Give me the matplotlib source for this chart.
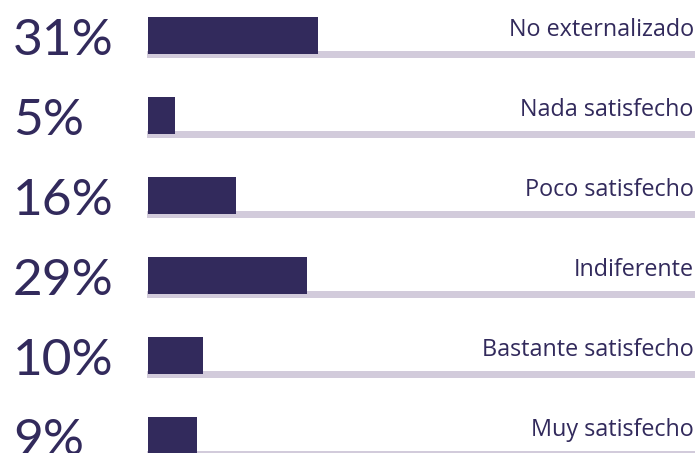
import matplotlib
matplotlib.use("Agg")
import matplotlib.pyplot as plt

categories = ["No externalizado", "Nada satisfecho", "Poco satisfecho",
              "Indiferente", "Bastante satisfecho", "Muy satisfecho"]
values = [31, 5, 16, 29, 10, 9]
pct_labels = ["31%", "5%", "16%", "29%", "10%", "9%"]

NAVY = "#322a5c"
TRACK = "#d2cbdb"

W, H = 699, 453
fig = plt.figure(figsize=(W / 100, H / 100), dpi=100)
ax = fig.add_axes([0, 0, 1, 1])
px_per_pct = 5.48
x0 = 148
ax.set_xlim(-x0 / px_per_pct, (W - x0) / px_per_pct)
row = 80.0
top = 35.5 / row
ax.set_ylim(H / row - top, -top)
ax.axis("off")

ys = list(range(len(categories)))
ax.barh([y + 19 / row for y in ys], [100] * len(ys), height=7 / row,
        left=-0.2, color=TRACK, zorder=1)
ax.barh(ys, values, height=37 / row, color=NAVY, zorder=2)

for y, lab, cat in zip(ys, pct_labels, categories):
    ax.text((13 - x0) / px_per_pct, y + 19.5 / row, lab, ha="left", va="baseline",
            fontsize=37, color=NAVY, family="Lato", fontweight="normal")
    ax.text(99.6, y + 1 / row, cat, ha="right", va="baseline",
            fontsize=16.8, color=NAVY, family="Open Sans")

fig.savefig("out.png", dpi=100)
